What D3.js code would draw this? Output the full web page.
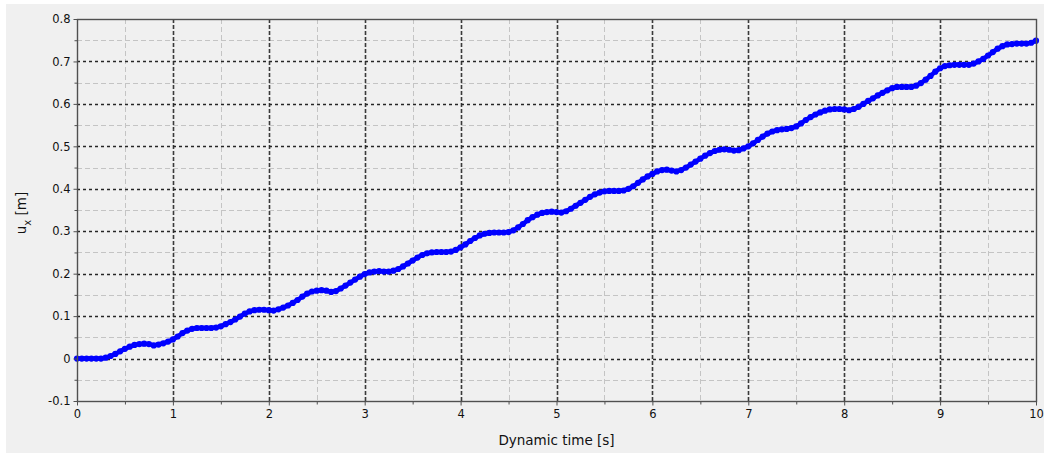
<!DOCTYPE html>
<html>
<head>
<meta charset="utf-8">
<script src="https://cdn.jsdelivr.net/npm/d3@7"></script>
<style>
  html, body { margin: 0; padding: 0; background: #ffffff; }
  svg { display: block; }
  text { font-family: "DejaVu Sans", Verdana, sans-serif; fill: #111111; }
</style>
</head>
<body>
<svg id="chart" width="1044" height="453"></svg>
<script>
// Sample step of the recorded displacement series [s]
const timeStep = 0.05;

// Horizontal displacement u_x [m], one value per sample from t = 0 s to t = 10 s
const ux = [
  0.000, 0.000, 0.000, 0.000, 0.000, 0.000, 0.002, 0.006, 0.011, 0.017,
  0.023, 0.028, 0.032, 0.034, 0.035, 0.034, 0.031, 0.033, 0.036, 0.040,
  0.045, 0.052, 0.060, 0.066, 0.070, 0.072, 0.072, 0.072, 0.072, 0.073,
  0.076, 0.081, 0.086, 0.092, 0.099, 0.106, 0.111, 0.114, 0.115, 0.115,
  0.114, 0.113, 0.116, 0.120, 0.125, 0.131, 0.138, 0.146, 0.153, 0.158,
  0.160, 0.161, 0.160, 0.157, 0.159, 0.165, 0.172, 0.179, 0.186, 0.193,
  0.199, 0.203, 0.205, 0.206, 0.205, 0.205, 0.207, 0.211, 0.217, 0.224,
  0.231, 0.238, 0.244, 0.248, 0.250, 0.251, 0.251, 0.251, 0.252, 0.256,
  0.262, 0.269, 0.277, 0.284, 0.290, 0.294, 0.296, 0.297, 0.297, 0.297,
  0.298, 0.302, 0.309, 0.317, 0.326, 0.333, 0.339, 0.343, 0.345, 0.346,
  0.345, 0.344, 0.347, 0.353, 0.360, 0.367, 0.374, 0.381, 0.387, 0.391,
  0.394, 0.395, 0.395, 0.395, 0.396, 0.400, 0.406, 0.414, 0.422, 0.429,
  0.435, 0.441, 0.444, 0.445, 0.443, 0.441, 0.444, 0.450, 0.457, 0.464,
  0.471, 0.478, 0.484, 0.489, 0.492, 0.493, 0.492, 0.490, 0.491, 0.495,
  0.500, 0.507, 0.515, 0.523, 0.530, 0.535, 0.538, 0.540, 0.541, 0.543,
  0.547, 0.554, 0.562, 0.569, 0.575, 0.580, 0.584, 0.587, 0.588, 0.588,
  0.587, 0.585, 0.588, 0.593, 0.600, 0.607, 0.613, 0.620, 0.626, 0.632,
  0.637, 0.640, 0.640, 0.640, 0.640, 0.643, 0.649, 0.657, 0.666, 0.676,
  0.684, 0.689, 0.691, 0.692, 0.692, 0.692, 0.692, 0.695, 0.700, 0.706,
  0.714, 0.722, 0.730, 0.736, 0.740, 0.741, 0.742, 0.742, 0.742, 0.744,
  0.749
];

// Axis ticks
const xMajorTicks = [0, 1, 2, 3, 4, 5, 6, 7, 8, 9, 10];
const xMinorTicks = [0.5, 1.5, 2.5, 3.5, 4.5, 5.5, 6.5, 7.5, 8.5, 9.5];
const yMajorTicks = [-0.1, 0, 0.1, 0.2, 0.3, 0.4, 0.5, 0.6, 0.7, 0.8];
const yMinorTicks = [-0.05, 0.05, 0.15, 0.25, 0.35, 0.45, 0.55, 0.65, 0.75];
const xTickLabels = ["0", "1", "2", "3", "4", "5", "6", "7", "8", "9", "10"];
const yTickLabels = ["-0.1", "0", "0.1", "0.2", "0.3", "0.4", "0.5", "0.6", "0.7", "0.8"];

const xTitle = "Dynamic time [s]";

const points = ux.map((v, i) => ({ t: i * timeStep, v: v }));

const svg = d3.select("#chart");
const W = 1044, H = 453;
const plot = { left: 77, right: 1036, top: 19, bottom: 401 };

// Panel background
svg.append("rect")
  .attr("x", 6).attr("y", 4)
  .attr("width", W - 6).attr("height", H - 4)
  .attr("fill", "#f0f0f0");

const x = d3.scaleLinear().domain([0, 10]).range([plot.left, plot.right]);
const y = d3.scaleLinear().domain([-0.1, 0.8]).range([plot.bottom, plot.top]);

// Minor grid
const grid = svg.append("g");
grid.selectAll(".vminor").data(xMinorTicks).join("line")
  .attr("x1", d => Math.round(x(d)) + 0.5).attr("x2", d => Math.round(x(d)) + 0.5)
  .attr("y1", plot.top).attr("y2", plot.bottom)
  .attr("stroke", "#c4c4c4").attr("stroke-width", 1).attr("stroke-dasharray", "5,3");
grid.selectAll(".hminor").data(yMinorTicks).join("line")
  .attr("y1", d => Math.round(y(d)) + 0.5).attr("y2", d => Math.round(y(d)) + 0.5)
  .attr("x1", plot.left).attr("x2", plot.right)
  .attr("stroke", "#c4c4c4").attr("stroke-width", 1).attr("stroke-dasharray", "5,3");

// Major grid
grid.selectAll(".vmajor").data(xMajorTicks.slice(1, -1)).join("line")
  .attr("x1", d => Math.round(x(d)) + 0.5).attr("x2", d => Math.round(x(d)) + 0.5)
  .attr("y1", plot.top).attr("y2", plot.bottom)
  .attr("stroke", "#3a3a3a").attr("stroke-width", 1.6).attr("stroke-dasharray", "4,2");
grid.selectAll(".hmajor").data(yMajorTicks.slice(1, -1)).join("line")
  .attr("y1", d => Math.round(y(d)) + 0.5).attr("y2", d => Math.round(y(d)) + 0.5)
  .attr("x1", plot.left).attr("x2", plot.right)
  .attr("stroke", "#262626").attr("stroke-width", 1.3).attr("stroke-dasharray", "3,3");

// Series: line with dense circular markers
const line = d3.line().x(d => x(d.t)).y(d => y(d.v)).curve(d3.curveLinear);
svg.append("path")
  .datum(points)
  .attr("d", line)
  .attr("fill", "none")
  .attr("stroke", "#0000ff")
  .attr("stroke-width", 4.5)
  .attr("stroke-linejoin", "round");
svg.append("g").selectAll("circle").data(points).join("circle")
  .attr("cx", d => x(d.t)).attr("cy", d => y(d.v))
  .attr("r", 3.1)
  .attr("fill", "#0000ff");

// Plot frame
svg.append("rect")
  .attr("x", plot.left + 0.5).attr("y", plot.top + 0.5)
  .attr("width", plot.right - plot.left).attr("height", plot.bottom - plot.top)
  .attr("fill", "none").attr("stroke", "#505050").attr("stroke-width", 1.4);

// Axes
const xAxis = d3.axisBottom(x).tickValues(xMajorTicks).tickSize(4).tickSizeOuter(0)
  .tickFormat((d, i) => xTickLabels[i]);
const yAxis = d3.axisLeft(y).tickValues(yMajorTicks).tickSize(4).tickSizeOuter(0)
  .tickFormat((d, i) => yTickLabels[i]);

const gx = svg.append("g").attr("transform", `translate(0,${plot.bottom + 0.5})`).call(xAxis);
const gy = svg.append("g").attr("transform", `translate(${plot.left + 0.5},0)`).call(yAxis);
[gx, gy].forEach(g => {
  g.select(".domain").remove();
  g.selectAll(".tick line").attr("stroke", "#505050");
  g.selectAll(".tick text")
    .style("font-family", "\"DejaVu Sans\", Verdana, sans-serif")
    .style("font-size", "11.5px").attr("fill", "#111111");
});
gx.selectAll(".tick text").attr("dy", "0.71em").attr("y", 8);
gy.selectAll(".tick text").attr("x", -7);

const gxm = svg.append("g").attr("transform", `translate(0,${plot.bottom + 0.5})`)
  .call(d3.axisBottom(x).tickValues(xMinorTicks).tickSize(3).tickSizeOuter(0).tickFormat(""));
const gym = svg.append("g").attr("transform", `translate(${plot.left + 0.5},0)`)
  .call(d3.axisLeft(y).tickValues(yMinorTicks).tickSize(3).tickSizeOuter(0).tickFormat(""));
[gxm, gym].forEach(g => {
  g.select(".domain").remove();
  g.selectAll(".tick line").attr("stroke", "#505050");
});

// Axis titles
svg.append("text")
  .attr("x", (plot.left + plot.right) / 2).attr("y", 445)
  .attr("text-anchor", "middle")
  .style("font-size", "13.5px")
  .text(xTitle);

const yTitle = svg.append("text")
  .attr("transform", `translate(26,${(plot.top + plot.bottom) / 2 + 3}) rotate(-90)`)
  .attr("text-anchor", "middle")
  .style("font-size", "13.5px");
yTitle.append("tspan").text("u");
yTitle.append("tspan").attr("dy", 5).style("font-size", "10px").text("x");
yTitle.append("tspan").attr("dy", -5).text(" [m]");
</script>
</body>
</html>
